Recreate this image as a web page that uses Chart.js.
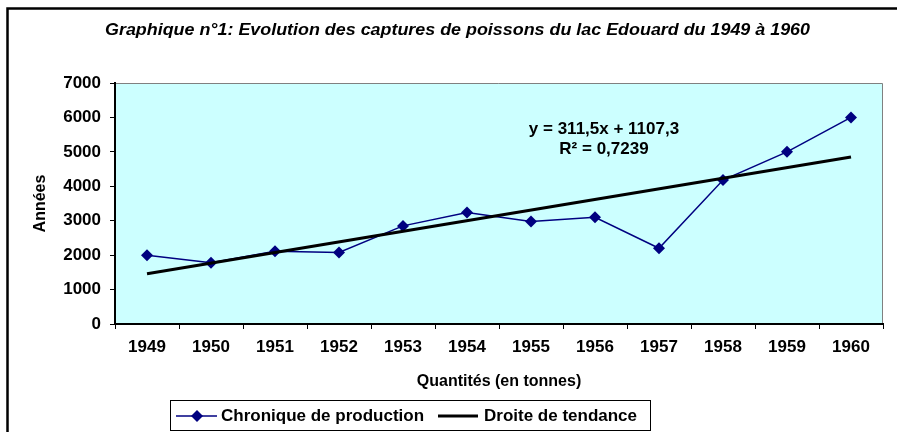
<!DOCTYPE html>
<html>
<head>
<meta charset="utf-8">
<script src="https://cdn.jsdelivr.net/npm/chart.js@4.4.1/dist/chart.umd.min.js"></script>
<style>
  html, body { margin: 0; padding: 0; background: #fff; }
  #wrap { position: relative; width: 897px; height: 432px; }
</style>
</head>
<body>
<div id="wrap"><canvas id="chart" width="897" height="432"></canvas></div>
<script>
/* Captures de poissons du lac Edouard, 1949-1960 */

const years = ["1949", "1950", "1951", "1952", "1953", "1954", "1955", "1956", "1957", "1958", "1959", "1960"];
const captures = [2000, 1780, 2110, 2080, 2850, 3240, 2980, 3100, 2200, 4180, 5000, 6000];
// trend line end points, as drawn in the picture
const trendYears = ["1949", "1960"];
const trendValues = [1460, 4850];
const yTicks = [0, 1000, 2000, 3000, 4000, 5000, 6000, 7000];

const titleText = "Graphique n°1: Evolution des captures de poissons du lac Edouard du 1949 à 1960";
const equationLines = ["y = 311,5x + 1107,3", "R² = 0,7239"];
const seriesNames = ["Chronique de production", "Droite de tendance"];

const FONT = "Liberation Sans, Arial, sans-serif";
const NAVY = "#000080";

const decorPlugin = {
  id: "decor",
  beforeDraw(chart) {
    const { ctx, chartArea: a } = chart;
    ctx.save();
    ctx.fillStyle = "#ccffff";
    ctx.fillRect(a.left, a.top, a.right - a.left, a.bottom - a.top);
    ctx.strokeStyle = "#808080";
    ctx.lineWidth = 1;
    ctx.beginPath();
    ctx.moveTo(a.left, a.top + 0.5);
    ctx.lineTo(a.right - 0.5, a.top + 0.5);
    ctx.lineTo(a.right - 0.5, a.bottom);
    ctx.stroke();
    // outer chart frame (left and top edges only are in view)
    ctx.strokeStyle = "#000";
    ctx.lineWidth = 2.5;
    ctx.beginPath();
    ctx.moveTo(7.5, 440);
    ctx.lineTo(7.5, 8.5);
    ctx.lineTo(897, 8.5);
    ctx.stroke();
    ctx.restore();
  },
  afterDraw(chart) {
    const { ctx } = chart;
    const xs = chart.scales.x, ys = chart.scales.y;
    ctx.save();
    // title, squeezed like the original
    ctx.font = "italic bold 16px " + FONT;
    ctx.fillStyle = "#000";
    ctx.textBaseline = "middle";
    ctx.textAlign = "left";
    const tw = ctx.measureText(titleText).width;
    ctx.translate(105, 31);
    ctx.scale(705 / tw, 1);
    ctx.fillText(titleText, 0, 0);
    ctx.restore();

    // regression equation
    ctx.save();
    ctx.font = "bold 17px " + FONT;
    ctx.fillStyle = "#000";
    ctx.textAlign = "center";
    ctx.textBaseline = "middle";
    const ex = (xs.getPixelForValue(7) + xs.getPixelForValue(8)) / 2 - 23;
    ctx.fillText(equationLines[0], ex, ys.getPixelForValue(5660));
    ctx.fillText(equationLines[1], ex, ys.getPixelForValue(5060));
    ctx.restore();

    // legend box
    ctx.save();
    ctx.strokeStyle = "#000";
    ctx.lineWidth = 1;
    ctx.strokeRect(170.5, 400.5, 480, 30);
    const ly = 416;
    ctx.strokeStyle = NAVY;
    ctx.lineWidth = 1.5;
    ctx.beginPath();
    ctx.moveTo(176, ly);
    ctx.lineTo(217, ly);
    ctx.stroke();
    ctx.fillStyle = NAVY;
    ctx.beginPath();
    ctx.moveTo(197, ly - 6);
    ctx.lineTo(203, ly);
    ctx.lineTo(197, ly + 6);
    ctx.lineTo(191, ly);
    ctx.closePath();
    ctx.fill();
    ctx.strokeStyle = "#000";
    ctx.lineWidth = 3;
    ctx.beginPath();
    ctx.moveTo(438, ly);
    ctx.lineTo(478, ly);
    ctx.stroke();
    ctx.font = "bold 17px " + FONT;
    ctx.fillStyle = "#000";
    ctx.textBaseline = "middle";
    ctx.textAlign = "left";
    ctx.fillText(seriesNames[0], 221, ly);
    ctx.fillText(seriesNames[1], 484, ly);
    ctx.restore();
  }
};

new Chart(document.getElementById("chart"), {
  type: "line",
  data: {
    labels: years,
    datasets: [
      {
        label: seriesNames[0],
        data: captures,
        borderColor: NAVY,
        backgroundColor: NAVY,
        borderWidth: 1.5,
        pointStyle: "rectRot",
        pointRadius: 6,
        pointBorderWidth: 0,
        tension: 0,
        order: 1,
      },
      {
        label: seriesNames[1],
        data: trendYears.map((y, i) => ({ x: y, y: trendValues[i] })),
        borderColor: "#000",
        borderWidth: 3,
        pointRadius: 0,
        tension: 0,
        order: 0,
      },
    ],
  },
  options: {
    responsive: false,
    animation: false,
    layout: { padding: { left: 0, top: 83, right: 14, bottom: 0 } },
    plugins: {
      legend: { display: false },
      title: { display: false },
      tooltip: { enabled: false },
    },
    scales: {
      x: {
        offset: true,
        grid: { offset: true, drawOnChartArea: false, drawTicks: true, tickLength: 5, color: "#000" },
        border: { color: "#000", width: 2 },
        ticks: { color: "#000", font: { family: FONT, size: 17, weight: "bold" }, padding: 8, maxRotation: 0 },
        title: {
          display: true,
          text: "Quantités (en tonnes)",
          color: "#000",
          font: { family: FONT, size: 16, weight: "bold" },
          padding: { top: 0, bottom: 41 },
        },
        afterFit: (s) => { s.height = 108; },
      },
      y: {
        min: 0,
        max: 7000,
        afterBuildTicks: (s) => { s.ticks = yTicks.map((v) => ({ value: v })); },
        grid: { drawOnChartArea: false, drawTicks: true, tickLength: 5, color: "#000" },
        border: { color: "#000", width: 2 },
        ticks: {
          color: "#000",
          font: { family: FONT, size: 17, weight: "bold" },
          padding: 9,
          callback: (v) => String(v),
        },
        title: {
          display: true,
          text: "Années",
          color: "#000",
          font: { family: FONT, size: 16, weight: "bold" },
          padding: { top: 31, bottom: 0 },
        },
        afterFit: (s) => { s.width = 115; },
      },
    },
  },
  plugins: [decorPlugin],
});
</script>
</body>
</html>
